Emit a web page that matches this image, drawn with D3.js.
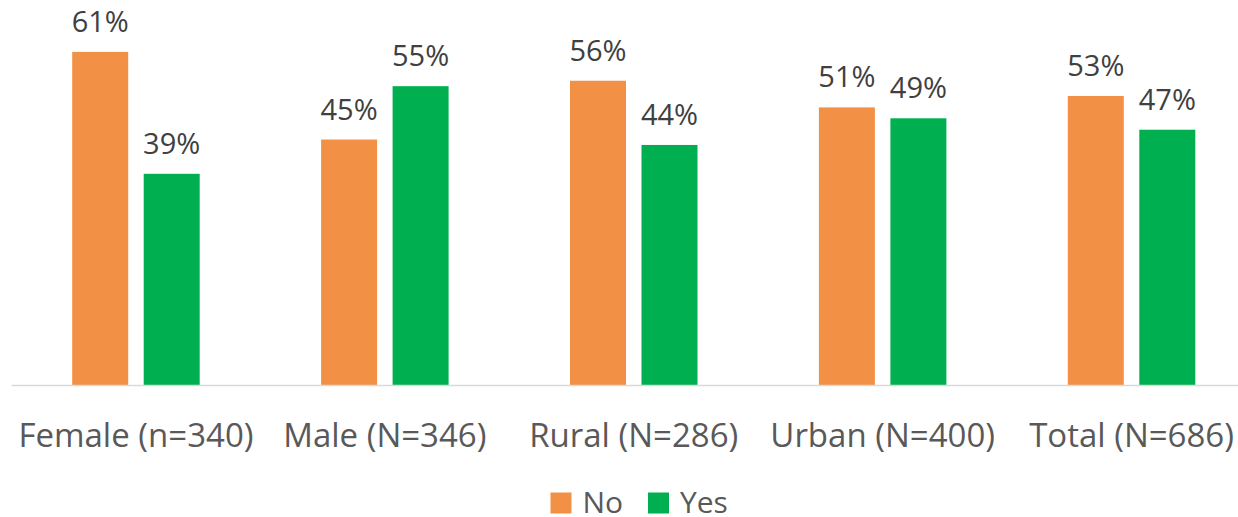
<!DOCTYPE html>
<html>
<head>
<meta charset="utf-8">
<script src="https://cdn.jsdelivr.net/npm/d3@7"></script>
<style>
  body { margin: 0; background: #fff; }
  text { font-family: "Open Sans", sans-serif; }
</style>
</head>
<body>
<svg id="svg" width="1238" height="517"></svg>
<script>
var svg = d3.select("#svg");

// data (percent of each group)
var categories = ["Female (n=340)", "Male (N=346)", "Rural (N=286)", "Urban (N=400)", "Total (N=686)"];
var seriesNames = ["No", "Yes"];
var noValues = [61.2, 45.1, 55.9, 51.0, 53.1];
var yesValues = [38.8, 54.9, 44.1, 49.0, 46.9];
var colors = ["#F29146", "#00B050"];

var rows = categories.map(function (c, i) {
    return {cat: c, vals: [noValues[i], yesValues[i]]};
});

var baseY = 385;
var x = d3.scaleBand().domain(categories).range([11.5, 1256]);
var y = d3.scaleLinear().domain([0, 70]).range([baseY, baseY - 5.443 * 70]);
var barW = 56, barGap = 15.5;
var groupW = barW * 2 + barGap;

var groups = svg.selectAll("g.cat")
    .data(rows)
    .enter()
    .append("g")
    .attr("class", "cat")
    .attr("transform", function (d) {
        return "translate(" + (x(d.cat) + x.bandwidth() / 2 - groupW / 2) + ",0)";
    });

groups.selectAll("rect")
    .data(function (d) { return d.vals.map(function (v, j) { return {v: v, j: j}; }); })
    .enter()
    .append("rect")
    .attr("x", function (d) { return d.j * (barW + barGap); })
    .attr("y", function (d) { return y(d.v); })
    .attr("width", barW)
    .attr("height", function (d) { return baseY - y(d.v); })
    .style("fill", function (d) { return colors[d.j]; });

groups.selectAll("text.lbl")
    .data(function (d) { return d.vals.map(function (v, j) { return {v: v, j: j}; }); })
    .enter()
    .append("text")
    .attr("class", "lbl")
    .attr("x", function (d) { return d.j * (barW + barGap) + barW / 2; })
    .attr("y", function (d) { return y(d.v) - 20; })
    .attr("text-anchor", "middle")
    .style("font-size", "29px")
    .style("fill", "#404040")
    .text(function (d) { return Math.round(d.v) + "%"; });

// axis
var xAxis = svg.append("g")
    .attr("transform", "translate(0," + (baseY + 0.5) + ")")
    .call(d3.axisBottom(x).tickSize(0).tickPadding(38));
xAxis.select(".domain").attr("stroke", "#d9d9d9").attr("stroke-width", 1.5)
    .attr("d", "M11.5,0H1238");
xAxis.selectAll("text")
    .style("font-family", "Open Sans")
    .style("font-size", "33px")
    .style("fill", "#595959");

// legend
var legend = svg.append("g").attr("transform", "translate(550.5,492.5)");
var legX = [0, 97.5];
var items = legend.selectAll("g")
    .data(seriesNames)
    .enter()
    .append("g")
    .attr("transform", function (d, i) { return "translate(" + legX[i] + ",0)"; });
items.append("rect")
    .attr("width", 21).attr("height", 21)
    .style("fill", function (d, i) { return colors[i]; });
items.append("text")
    .attr("x", 32).attr("y", 20.5)
    .style("font-size", "30px")
    .style("fill", "#595959")
    .text(function (d) { return d; });
</script>
</body>
</html>
